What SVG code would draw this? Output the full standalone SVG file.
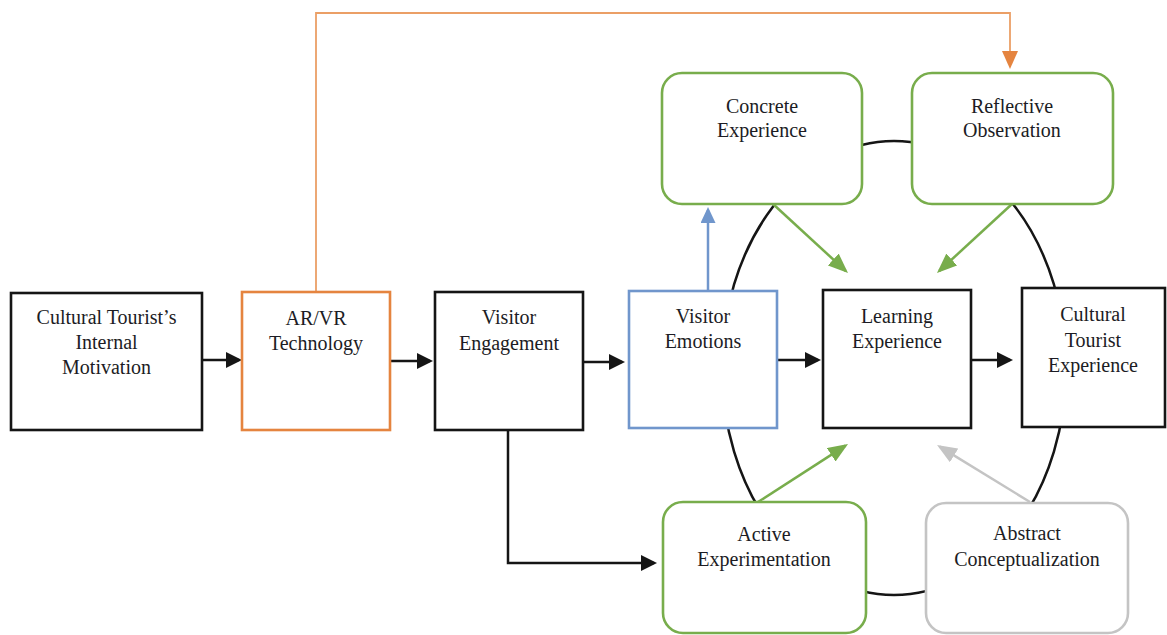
<svg xmlns="http://www.w3.org/2000/svg" width="1167" height="635" viewBox="0 0 1167 635">
<defs>
<style>
.box{fill:#fff;stroke-width:2.6}
.blk{stroke:#151515}
.org{stroke:#E5843F}
.blu{stroke:#7096CC}
.grn{stroke:#78AD4C}
.gry{stroke:#C4C4C4}
.t{font-family:"Liberation Serif","Times New Roman",serif;font-size:20px;fill:#1c1c24;text-anchor:middle}
.c{fill:none;stroke-width:2.5}
</style>
<marker id="aBlk" markerUnits="userSpaceOnUse" markerWidth="16" markerHeight="16" refX="13" refY="8" orient="auto"><path d="M0,0 L16,8 L0,16 z" fill="#151515"/></marker>
<marker id="aGrn" markerUnits="userSpaceOnUse" markerWidth="20" markerHeight="16" refX="17" refY="8" orient="auto"><path d="M0,0 L20,8 L0,16 z" fill="#78AD4C"/></marker>
<marker id="aGry" markerUnits="userSpaceOnUse" markerWidth="20" markerHeight="16" refX="17" refY="8" orient="auto"><path d="M0,0 L20,8 L0,16 z" fill="#C4C4C4"/></marker>
<marker id="aBlu" markerUnits="userSpaceOnUse" markerWidth="16" markerHeight="15" refX="13" refY="7.5" orient="auto"><path d="M0,0 L16,7.5 L0,15 z" fill="#7096CC"/></marker>
<marker id="aOrg" markerUnits="userSpaceOnUse" markerWidth="18" markerHeight="16" refX="15" refY="8" orient="auto"><path d="M0,0 L18,8 L0,16 z" fill="#E5843F"/></marker>
</defs>
<rect width="1167" height="635" fill="#fff"/>
<g id="connectors">
<ellipse cx="894" cy="368" rx="172" ry="227" class="c blk"/>
<path d="M316,292 V13 H1010 V66" fill="none" stroke="#EB9F66" stroke-width="1.8" marker-end="url(#aOrg)"/>
<line x1="202" y1="360" x2="239" y2="360" class="c blk" marker-end="url(#aBlk)"/>
<line x1="390" y1="361" x2="430" y2="361" class="c blk" marker-end="url(#aBlk)"/>
<line x1="583" y1="362" x2="622" y2="362" class="c blk" marker-end="url(#aBlk)"/>
<line x1="777" y1="360" x2="818" y2="360" class="c blk" marker-end="url(#aBlk)"/>
<line x1="971" y1="360" x2="1010" y2="360" class="c blk" marker-end="url(#aBlk)"/>
<path d="M508,430 V563 H654" class="c blk" marker-end="url(#aBlk)"/>
<line x1="708" y1="291" x2="708" y2="210" class="c blu" marker-end="url(#aBlu)"/>
<line x1="773" y1="204" x2="845.8" y2="271" class="c grn" marker-end="url(#aGrn)"/>
<line x1="1012" y1="204" x2="939.2" y2="271" class="c grn" marker-end="url(#aGrn)"/>
<line x1="758" y1="502" x2="845.5" y2="445.6" class="c grn" marker-end="url(#aGrn)"/>
<line x1="1030" y1="502" x2="939.6" y2="446.6" class="c gry" marker-end="url(#aGry)"/>
</g>
<g id="n_motivation">
<rect x="11" y="293" width="191" height="137" class="box blk"/>
<text class="t" x="106.5" y="324">Cultural Tourist’s</text>
<text class="t" x="106.5" y="349">Internal</text>
<text class="t" x="106.5" y="374">Motivation</text>
</g>
<g id="n_arvr">
<rect x="242" y="292" width="148" height="138" class="box org"/>
<text class="t" x="316" y="325">AR/VR</text>
<text class="t" x="316" y="350">Technology</text>
</g>
<g id="n_engagement">
<rect x="435" y="292" width="148" height="138" class="box blk"/>
<text class="t" x="509" y="324">Visitor</text>
<text class="t" x="509" y="350">Engagement</text>
</g>
<g id="n_emotions">
<rect x="629" y="291" width="148" height="137" class="box blu"/>
<text class="t" x="703" y="323">Visitor</text>
<text class="t" x="703" y="348">Emotions</text>
</g>
<g id="n_learning">
<rect x="823" y="290" width="148" height="138" class="box blk"/>
<text class="t" x="897" y="323">Learning</text>
<text class="t" x="897" y="348">Experience</text>
</g>
<g id="n_cte">
<rect x="1022" y="288" width="143" height="139" class="box blk"/>
<text class="t" x="1093" y="321">Cultural</text>
<text class="t" x="1093" y="347">Tourist</text>
<text class="t" x="1093" y="372">Experience</text>
</g>
<g id="n_concrete">
<rect x="662" y="73" width="200" height="131" rx="20" class="box grn"/>
<text class="t" x="762" y="113">Concrete</text>
<text class="t" x="762" y="137">Experience</text>
</g>
<g id="n_reflective">
<rect x="912" y="73" width="201" height="131" rx="20" class="box grn"/>
<text class="t" x="1012" y="113">Reflective</text>
<text class="t" x="1012" y="137">Observation</text>
</g>
<g id="n_active">
<rect x="663" y="502" width="203" height="131" rx="20" class="box grn"/>
<text class="t" x="764" y="541">Active</text>
<text class="t" x="764" y="566">Experimentation</text>
</g>
<g id="n_abstract">
<rect x="926" y="503" width="202" height="130" rx="20" class="box gry"/>
<text class="t" x="1027" y="540">Abstract</text>
<text class="t" x="1027" y="566">Conceptualization</text>
</g>
</svg>
